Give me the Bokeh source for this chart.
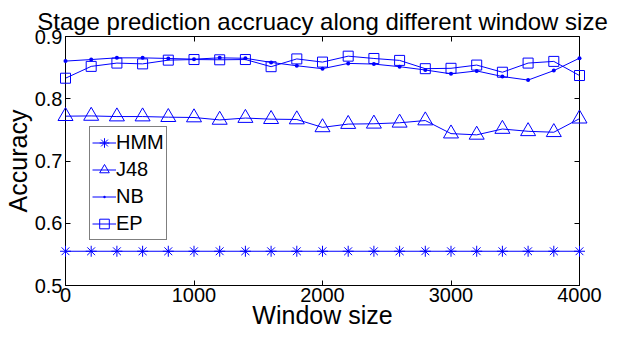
from bokeh.plotting import figure
from bokeh.models import (FixedTicker, LinearAxis, Legend, LegendItem, Range1d)
from bokeh.embed import file_html
from bokeh.resources import INLINE

# ---- data ----
window_size = [0, 200, 400, 600, 800, 1000, 1200, 1400, 1600, 1800, 2000,
               2200, 2400, 2600, 2800, 3000, 3200, 3400, 3600, 3800, 4000]
hmm = [0.555] * 21
j48 = [0.772, 0.7724, 0.7714, 0.7714, 0.7704, 0.7699, 0.766, 0.769, 0.7672, 0.7667, 0.754,
       0.7593, 0.7598, 0.7614, 0.765, 0.744, 0.742, 0.7514, 0.7477, 0.7462, 0.768]
nb = [0.8605, 0.863, 0.8657, 0.8657, 0.8647, 0.8636, 0.8657, 0.865, 0.8584, 0.853, 0.8483,
      0.8568, 0.8557, 0.8515, 0.8462, 0.840, 0.8447, 0.8357, 0.830, 0.8452, 0.8652]
ep = [0.833, 0.852, 0.8573, 0.856, 0.862, 0.863, 0.8626, 0.863, 0.8515, 0.864, 0.8589,
      0.8684, 0.8647, 0.8616, 0.8483, 0.8489, 0.8541, 0.8426, 0.8573, 0.860, 0.8373]
x_ticks = [0, 1000, 2000, 3000, 4000]
y_ticks = [0.5, 0.6, 0.7, 0.8, 0.9]

FONT = "Liberation Sans"
BLUE = "#0000ff"

p = figure(width=613, height=331, output_backend="svg", toolbar_location=None,
           x_range=Range1d(0, 4000), y_range=Range1d(0.5, 0.9),
           min_border_left=58, min_border_right=34, min_border_top=36, min_border_bottom=40)

p.title.text = "Stage prediction accruacy along different window size"
p.title.text_font = FONT
p.title.text_font_size = "24px"
p.title.text_font_style = "normal"
p.title.text_color = "black"
p.title.align = "center"
p.title.standoff = 4

p.xgrid.visible = False
p.ygrid.visible = False
p.outline_line_color = "black"
p.outline_line_width = 1
p.background_fill_color = "white"
p.border_fill_color = "white"

for ax in (p.xaxis[0], p.yaxis[0]):
    ax.major_tick_in = 5
    ax.major_tick_out = 0
    ax.minor_tick_line_color = None
    ax.major_label_text_font = FONT
    ax.major_label_text_font_size = "20px"
    ax.major_label_text_color = "black"
    ax.axis_label_text_font = FONT
    ax.axis_label_text_font_size = "25px"
    ax.axis_label_text_font_style = "normal"
    ax.axis_label_text_color = "black"
    ax.axis_line_color = "black"
    ax.major_tick_line_color = "black"
    ax.major_label_standoff = 3

p.xaxis[0].ticker = FixedTicker(ticks=x_ticks)
p.yaxis[0].ticker = FixedTicker(ticks=y_ticks)
p.xaxis[0].axis_label = "Window size"
p.yaxis[0].axis_label = "Accuracy"
p.xaxis[0].major_label_standoff = 2
p.xaxis[0].axis_label_standoff = -4
p.yaxis[0].axis_label_standoff = 0

# mirrored ticks (box on), no labels drawn
top = LinearAxis(ticker=FixedTicker(ticks=x_ticks), major_tick_in=5, major_tick_out=0,
                 minor_tick_line_color=None, axis_line_color=None,
                 major_label_text_color=None, major_label_text_font_size="1px",
                 major_label_standoff=0)
right = LinearAxis(ticker=FixedTicker(ticks=y_ticks), major_tick_in=5, major_tick_out=0,
                   minor_tick_line_color=None, axis_line_color=None,
                   major_label_text_color=None, major_label_text_font_size="1px",
                   major_label_standoff=0)
p.add_layout(top, "above")
p.add_layout(right, "right")

items = []
l1 = p.line(window_size, hmm, line_color=BLUE, line_width=1)
m1 = p.scatter(window_size, hmm, marker="asterisk", size=11, line_color=BLUE, line_width=1, level="overlay")
items.append(LegendItem(label="HMM", renderers=[l1, m1]))
l2 = p.line(window_size, j48, line_color=BLUE, line_width=1)
m2 = p.scatter(window_size, j48, marker="triangle", size=15, line_color=BLUE, fill_color=None, line_width=1, level="overlay")
items.append(LegendItem(label="J48", renderers=[l2, m2]))
l3 = p.line(window_size, nb, line_color=BLUE, line_width=1)
m3 = p.scatter(window_size, nb, marker="dot", size=16, line_color=BLUE, fill_color=BLUE, level="overlay")
items.append(LegendItem(label="NB", renderers=[l3, m3]))
l4 = p.line(window_size, ep, line_color=BLUE, line_width=1)
m4 = p.scatter(window_size, ep, marker="square", size=10, line_color=BLUE, fill_color=None, line_width=1, level="overlay")
items.append(LegendItem(label="EP", renderers=[l4, m4]))

legend = Legend(items=items, location=(24, 45), padding=2, spacing=0, margin=0,
                glyph_width=24, glyph_height=27, label_height=27, label_standoff=0,
                label_text_font=FONT, label_text_font_size="20px", label_text_color="black",
                border_line_color="black", border_line_width=1,
                background_fill_color="white", background_fill_alpha=1.0)
p.add_layout(legend, "center")

open("out.html", "w").write(file_html(p, INLINE))
